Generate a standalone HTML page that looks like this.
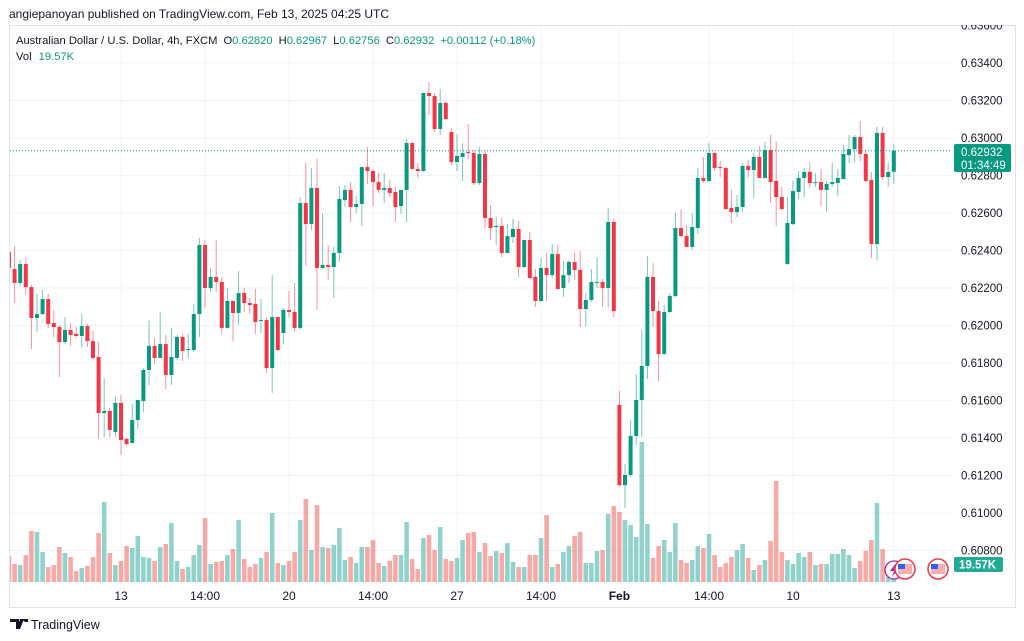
<!DOCTYPE html>
<html><head><meta charset="utf-8"><style>
html,body{margin:0;padding:0;background:#fff;width:1024px;height:641px;overflow:hidden;font-family:"Liberation Sans",sans-serif}
svg{position:absolute;left:0;top:0}
</style></head><body>
<svg id="chart" width="1024" height="641" viewBox="0 0 1024 641" xmlns="http://www.w3.org/2000/svg">
<text x="9" y="18" font-size="12" fill="#131722">angiepanoyan published on TradingView.com, Feb 13, 2025 04:25 UTC</text>
<rect x="9.5" y="25.5" width="1006" height="582" fill="none" stroke="#e0e3eb"/>
<g id="grid"></g>
<g id="vols"></g>
<g id="candles"></g>
<line x1="10" x2="952" y1="150.75" y2="150.75" stroke="#089981" stroke-width="1" stroke-dasharray="1,2"/>
<g id="yaxis"></g>
<g id="xaxis"></g>
<g font-size="11.2">
<text x="16" y="44" fill="#131722">Australian Dollar / U.S. Dollar, 4h, FXCM<tspan dx="6">O</tspan><tspan fill="#089981">0.62820</tspan><tspan dx="6">H</tspan><tspan fill="#089981">0.62967</tspan><tspan dx="6">L</tspan><tspan fill="#089981">0.62756</tspan><tspan dx="6">C</tspan><tspan fill="#089981">0.62932</tspan><tspan dx="6" fill="#089981">+0.00112 (+0.18%)</tspan></text>
<text x="16" y="60" fill="#131722">Vol <tspan fill="#089981" dx="4">19.57K</tspan></text>
</g>
<g>
<rect x="954" y="144" width="57" height="28" rx="2" fill="#089981"/>
<text x="961" y="156" font-size="11.5" fill="#fff">0.62932</text>
<text x="961" y="169" font-size="11.5" fill="#fff">01:34:49</text>
</g>
<g>
<rect x="954" y="557" width="49" height="15" rx="2" fill="#22ab94"/>
<text x="959" y="568.5" font-size="11.5" font-weight="bold" fill="#fff">19.57K</text>
</g>
<g>
<circle cx="894" cy="570" r="9" fill="#fff" stroke="#9c27b0" stroke-width="1.3"/>
<path d="M896 563 L890 571 L894 571 L892 577 L898 569 L894 569 Z" fill="#9c27b0"/>
<circle cx="905" cy="569" r="10" fill="#fff" stroke="#f23645" stroke-width="1.5"/>
<rect x="898" y="564" width="14" height="10" fill="#f7b0b0"/><rect x="898" y="564" width="7" height="5" fill="#2962ff"/>
<circle cx="938" cy="569" r="10" fill="#fff" stroke="#f23645" stroke-width="1.5"/>
<rect x="931" y="564" width="14" height="10" fill="#f7b0b0"/><rect x="931" y="564" width="7" height="5" fill="#2962ff"/>
</g>
<g>
<path d="M10 619 h9 v10 h-3 v-7 h-6z M20 619 h4 l-4 10 h-3z M22 619 h6 v3 h-3z" fill="#131722"/>
<text x="31" y="629" font-size="12.5" fill="#131722">TradingView</text>
</g>
</svg>
<script>
const opens=[0.62392,0.62301,0.62227,0.62328,0.62205,0.62040,0.62061,0.62141,0.62013,0.61992,0.61912,0.61976,0.61955,0.61944,0.61997,0.61917,0.61832,0.61533,0.61544,0.61432,0.61587,0.61395,0.61373,0.61496,0.61597,0.61763,0.61891,0.61827,0.61901,0.61736,0.61827,0.61939,0.61869,0.61869,0.62061,0.62429,0.62200,0.62259,0.62232,0.61987,0.62131,0.62067,0.62173,0.62120,0.62115,0.62024,0.62029,0.61773,0.62045,0.61960,0.62083,0.62072,0.61987,0.62653,0.62541,0.62733,0.62307,0.62323,0.62312,0.62387,0.62669,0.62723,0.62632,0.62648,0.62845,0.62824,0.62765,0.62723,0.62733,0.62712,0.62637,0.62723,0.62973,0.62835,0.62824,0.63240,0.63224,0.63048,0.63187,0.63032,0.62872,0.62899,0.62925,0.62920,0.62760,0.62915,0.62573,0.62525,0.62531,0.62387,0.62472,0.62515,0.62312,0.62456,0.62259,0.62131,0.62307,0.62269,0.62381,0.62200,0.62269,0.62339,0.62296,0.62088,0.62136,0.62227,0.62232,0.62200,0.62552,0.61576,0.61149,0.61203,0.61411,0.61603,0.61784,0.62259,0.62077,0.61848,0.62072,0.62157,0.62520,0.62477,0.62419,0.62520,0.62787,0.62771,0.62920,0.62845,0.62840,0.62627,0.62605,0.62632,0.62851,0.62829,0.62899,0.62787,0.62936,0.62771,0.62685,0.62328,0.62541,0.62712,0.62787,0.62819,0.62760,0.62765,0.62723,0.62755,0.62760,0.62781,0.62909,0.62941,0.63005,0.62915,0.62776,0.62435,0.63027,0.62792,0.62820];
const highs=[0.62445,0.62424,0.62349,0.62360,0.62216,0.62168,0.62189,0.62168,0.62083,0.62003,0.62045,0.62013,0.61992,0.62061,0.62008,0.61971,0.61912,0.61715,0.61560,0.61624,0.61629,0.61400,0.61581,0.61603,0.61773,0.62029,0.61933,0.62072,0.61949,0.61987,0.61949,0.61955,0.61955,0.62115,0.62467,0.62456,0.62307,0.62456,0.62259,0.62200,0.62131,0.62291,0.62200,0.62147,0.62195,0.62141,0.62045,0.62269,0.62045,0.62093,0.62184,0.62227,0.62685,0.62867,0.62840,0.62888,0.62600,0.62429,0.62419,0.62744,0.62749,0.62765,0.62691,0.62845,0.62952,0.62835,0.62813,0.62813,0.62776,0.62739,0.62723,0.62995,0.62979,0.62867,0.63240,0.63299,0.63240,0.63261,0.63197,0.63053,0.63021,0.62973,0.63075,0.62936,0.62952,0.62931,0.62643,0.62579,0.62573,0.62541,0.62568,0.62557,0.62456,0.62499,0.62301,0.62360,0.62387,0.62435,0.62429,0.62344,0.62349,0.62387,0.62397,0.62173,0.62301,0.62365,0.62248,0.62627,0.62568,0.61651,0.61261,0.61496,0.61741,0.61976,0.62371,0.62333,0.62131,0.62109,0.62173,0.62600,0.62621,0.62536,0.62600,0.62840,0.62899,0.62973,0.62925,0.62877,0.62845,0.62723,0.62696,0.62867,0.62883,0.62920,0.62957,0.62979,0.63016,0.62979,0.62739,0.62685,0.62771,0.62824,0.62840,0.62872,0.62813,0.62835,0.62771,0.62867,0.62835,0.62963,0.63016,0.63016,0.63091,0.62936,0.62819,0.63059,0.63059,0.62867,0.62967];
const lows=[0.62285,0.62120,0.62211,0.62163,0.61875,0.61965,0.62056,0.61987,0.61939,0.61725,0.61901,0.61891,0.61933,0.61880,0.61885,0.61821,0.61395,0.61405,0.61405,0.61405,0.61309,0.61357,0.61373,0.61448,0.61539,0.61683,0.61795,0.61827,0.61661,0.61683,0.61816,0.61811,0.61827,0.61859,0.61939,0.62093,0.62179,0.62179,0.61955,0.61981,0.61917,0.62003,0.62072,0.62061,0.61955,0.61960,0.61747,0.61640,0.61864,0.61901,0.62045,0.61965,0.61976,0.62317,0.62509,0.62083,0.62301,0.62243,0.62147,0.62339,0.62632,0.62552,0.62600,0.62531,0.62755,0.62637,0.62707,0.62653,0.62685,0.62552,0.62595,0.62552,0.62829,0.62787,0.62819,0.63123,0.63032,0.63016,0.63096,0.62856,0.62824,0.62771,0.62888,0.62749,0.62749,0.62520,0.62456,0.62429,0.62365,0.62387,0.62440,0.62259,0.62307,0.62248,0.62099,0.62125,0.62131,0.62253,0.62189,0.62152,0.62227,0.62243,0.61992,0.61997,0.62125,0.62200,0.62099,0.62099,0.62045,0.61139,0.61027,0.61192,0.61363,0.61405,0.61715,0.61992,0.61704,0.61843,0.62067,0.62152,0.62472,0.62419,0.62403,0.62488,0.62760,0.62765,0.62824,0.62792,0.62616,0.62547,0.62579,0.62605,0.62787,0.62680,0.62787,0.62781,0.62653,0.62531,0.62616,0.62323,0.62536,0.62675,0.62685,0.62733,0.62739,0.62637,0.62605,0.62739,0.62691,0.62781,0.62867,0.62872,0.62877,0.62765,0.62360,0.62349,0.62776,0.62739,0.62756];
const closes=[0.62307,0.62227,0.62328,0.62205,0.62040,0.62061,0.62141,0.62008,0.61992,0.61912,0.61976,0.61949,0.61944,0.61997,0.61917,0.61827,0.61533,0.61544,0.61443,0.61587,0.61389,0.61368,0.61496,0.61603,0.61763,0.61891,0.61827,0.61901,0.61736,0.61832,0.61939,0.61864,0.61875,0.62061,0.62429,0.62200,0.62259,0.62232,0.61987,0.62131,0.62067,0.62173,0.62120,0.62109,0.62019,0.62029,0.61773,0.62045,0.61869,0.62083,0.62072,0.61987,0.62653,0.62541,0.62733,0.62307,0.62323,0.62312,0.62387,0.62675,0.62723,0.62632,0.62648,0.62845,0.62824,0.62765,0.62723,0.62733,0.62707,0.62632,0.62723,0.62973,0.62835,0.62824,0.63240,0.63224,0.63048,0.63187,0.63101,0.62872,0.62904,0.62920,0.62920,0.62760,0.62915,0.62573,0.62520,0.62531,0.62387,0.62477,0.62515,0.62312,0.62456,0.62253,0.62131,0.62307,0.62269,0.62381,0.62195,0.62269,0.62339,0.62296,0.62088,0.62136,0.62232,0.62232,0.62200,0.62552,0.62077,0.61149,0.61203,0.61411,0.61603,0.61784,0.62259,0.62077,0.61848,0.62072,0.62157,0.62520,0.62477,0.62419,0.62525,0.62787,0.62771,0.62920,0.62840,0.62840,0.62621,0.62605,0.62632,0.62851,0.62829,0.62899,0.62787,0.62936,0.62765,0.62685,0.62621,0.62547,0.62717,0.62787,0.62819,0.62760,0.62765,0.62723,0.62755,0.62765,0.62787,0.62915,0.62941,0.63005,0.62915,0.62771,0.62435,0.63027,0.62792,0.62819,0.62932];
const volumes=[130,90,85,135,255,250,150,75,85,175,145,125,55,70,80,125,245,400,145,85,105,180,170,230,125,120,105,175,190,295,105,65,75,135,185,320,90,100,105,135,165,310,115,75,90,120,150,345,95,85,105,150,310,415,160,385,175,170,185,270,110,125,95,175,175,210,95,80,105,135,135,300,115,65,220,235,160,275,115,105,120,210,245,250,150,195,130,155,145,195,100,75,75,135,135,220,335,75,90,150,180,230,250,95,95,155,160,340,380,350,310,285,225,700,290,120,180,210,150,295,110,95,110,180,170,240,135,75,95,125,160,190,120,60,85,110,205,505,150,110,90,145,125,150,85,90,90,140,140,165,135,70,105,155,210,395,165,25,20];
const priceTicks=[0.636,0.634,0.632,0.630,0.628,0.626,0.624,0.622,0.620,0.618,0.616,0.614,0.612,0.610,0.608];
const timeTickIdx=[20,35,50,65,80,95,109,125,140,158];
const timeTickLabels=["13","14:00","20","14:00","27","14:00","Feb","14:00","10","13"];

const NS="http://www.w3.org/2000/svg";
const PL=10,PR=952,PT=26,PB=582;
function yScale(p){return 63+(0.634-p)*18750;}
function xScale(i){return 9+5.6*i;}
function vScale(v){return v/5;}
function mk(tag,attrs,parent){const e=document.createElementNS(NS,tag);for(const k in attrs)e.setAttribute(k,attrs[k]);parent.appendChild(e);return e;}
const grid=document.getElementById('grid'),yaxis=document.getElementById('yaxis'),xaxis=document.getElementById('xaxis');
const candlesG=document.getElementById('candles'),volsG=document.getElementById('vols');
priceTicks.forEach(p=>{
  const y=yScale(p);
  if(y>PT){const l=mk('line',{x1:PL,x2:PR,y1:y,y2:y,stroke:'#f2f3f6'},grid);
  
  }
  const t=mk('text',{x:961,y:y+4,'font-size':11.5,fill:'#131722'},yaxis);
  
  
  t.textContent=p.toFixed(5);
});
mk('rect',{x:952,y:10,width:62,height:15,fill:'#fff'},yaxis);
timeTickIdx.forEach((idx,k)=>{
  const x=xScale(idx);
  const l=mk('line',{x1:x,x2:x,y1:PT,y2:PB,stroke:'#f2f3f6'},grid);
  
  
  const t=mk('text',{x:x,y:600,'font-size':12,fill:'#131722','text-anchor':'middle','font-weight':timeTickLabels[k]==='Feb'?'bold':'normal'},xaxis);
  
  
  t.textContent=timeTickLabels[k];
});
const clip=mk('clipPath',{id:'plotclip'},document.getElementById('chart'));
mk('rect',{x:PL,y:PT,width:PR-PL,height:PB-PT},clip);
candlesG.setAttribute('clip-path','url(#plotclip)');
volsG.setAttribute('clip-path','url(#plotclip)');
for(let i=0;i<opens.length;i++){
  const up=closes[i]>=opens[i];
  const x=xScale(i);
  const vh=vScale(volumes[i]);
  const vb=mk('rect',{x:x-2.3,y:PB-vh,width:4.6,height:vh,fill:up?'rgba(38,166,154,0.5)':'rgba(239,83,80,0.5)'},volsG);
  
  
  const col=up?'#089981':'#F23645';
  const w=mk('line',{x1:x,x2:x,y1:yScale(highs[i]),y2:yScale(lows[i]),stroke:col,'stroke-opacity':0.55,'stroke-width':1},candlesG);
  
  
  const yt=yScale(Math.max(opens[i],closes[i])),yb=yScale(Math.min(opens[i],closes[i]));
  const b=mk('rect',{x:x-2,y:yt,width:4,height:Math.max(1,yb-yt),fill:col},candlesG);
  
  
}
</script>
</body></html>
